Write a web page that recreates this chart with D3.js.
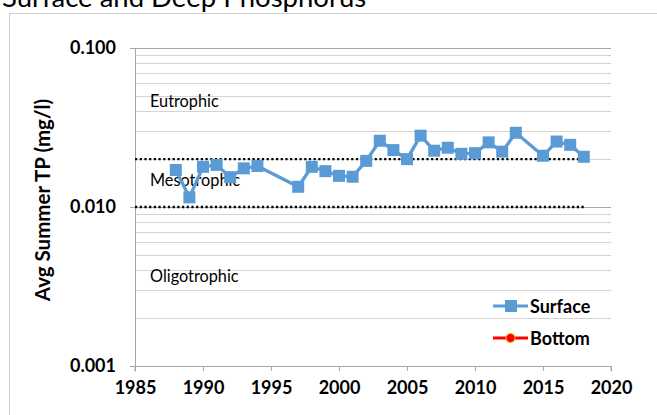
<!DOCTYPE html>
<html>
<head>
<meta charset="utf-8">
<script src="https://cdn.jsdelivr.net/npm/d3@7"></script>
<style>
  body { margin: 0; background: #fff; }
  svg { display: block; font-family: Lato, "Open Sans", sans-serif; }
</style>
</head>
<body>
<svg id="chart" width="657" height="415"></svg>
<script>
// ---- data ----
var years = [1988, 1989, 1990, 1991, 1992, 1993, 1994, 1997, 1998, 1999, 2000, 2001, 2002, 2003,
             2004, 2005, 2006, 2007, 2008, 2009, 2010, 2011, 2012, 2013, 2015, 2016, 2017, 2018];
var surfaceTP = [0.0171, 0.0115, 0.0179, 0.0184, 0.0154, 0.0175, 0.0181, 0.0134, 0.0179, 0.0168,
                 0.0157, 0.0155, 0.0195, 0.0261, 0.0228, 0.0200, 0.0281, 0.0226, 0.0236, 0.0216,
                 0.0218, 0.0255, 0.0223, 0.0293, 0.0210, 0.0258, 0.0246, 0.0207];
var bottomTP = []; // legend only, no points plotted
var xTicks = [1985, 1990, 1995, 2000, 2005, 2010, 2015, 2020];
var yTicks = [0.001, 0.01, 0.1];
var trophicBounds = [0.02, 0.01];
var trophicLabels = [
  {name: "Eutrophic", value: 0.0426},
  {name: "Mesotrophic", value: 0.0135},
  {name: "Oligotrophic", value: 0.00337}
];

var svg = d3.select("#chart");

var x = d3.scaleLinear().domain([1985, 2020]).range([135, 611]);
var y = d3.scaleLog().domain([0.001, 0.1]).range([366, 48]);

// outer chart border
svg.append("rect")
  .attr("x", 9.5).attr("y", 13.5)
  .attr("width", 700).attr("height", 450)
  .attr("fill", "none").attr("stroke", "#d0d0d0").attr("stroke-width", 1);

// title (cut off at top)
svg.append("text")
  .attr("x", 2).attr("y", 7)
  .style("font-size", "27.5px")
  .attr("fill", "#000")
  .text("Surface and Deep Phosphorus");

// minor gridlines
var minor = [];
[0.001, 0.01].forEach(function(d) {
  for (var m = 2; m <= 9; m++) minor.push(d * m);
});
svg.append("g").selectAll("line").data(minor).enter().append("line")
  .attr("x1", 135).attr("x2", 611)
  .attr("y1", function(d) { return Math.round(y(d)) + 0.5; })
  .attr("y2", function(d) { return Math.round(y(d)) + 0.5; })
  .attr("stroke", "#d4d4d4").attr("stroke-width", 1);

// major gridlines
svg.append("g").selectAll("line").data([0.01, 0.1]).enter().append("line")
  .attr("x1", 135).attr("x2", 611)
  .attr("y1", function(d) { return Math.round(y(d)) + 0.5; })
  .attr("y2", function(d) { return Math.round(y(d)) + 0.5; })
  .attr("stroke", "#a6a6a6").attr("stroke-width", 1);

// y axis
var yAxis = svg.append("g").attr("transform", "translate(135,0)")
  .call(d3.axisLeft(y).tickValues(yTicks).tickFormat(d3.format(".3f")).tickSize(5).tickPadding(14));
// x axis
var xAxis = svg.append("g").attr("transform", "translate(0," + y(0.001) + ")")
  .call(d3.axisBottom(x).tickValues(xTicks).tickFormat(d3.format("d")).tickSize(5).tickPadding(10));

[yAxis, xAxis].forEach(function(a) {
  a.select(".domain").attr("stroke", "#a6a6a6");
  a.selectAll(".tick line").attr("stroke", "#a6a6a6");
  a.selectAll(".tick text")
    .style("font-family", "Lato, sans-serif")
    .style("font-size", "18px").style("font-weight", "bold").attr("fill", "#000");
});
xAxis.select(".domain").attr("d", "M135,5.5V0.5H611V5.5");

// y axis title
svg.append("text")
  .attr("transform", "translate(50," + 200 + ") rotate(-90)")
  .attr("text-anchor", "middle")
  .style("font-size", "20.5px").style("font-weight", "bold")
  .text("Avg Summer TP (mg/l)");

// trophic boundaries (dotted)
svg.append("g").selectAll("line").data(trophicBounds).enter().append("line")
  .attr("x1", x(1985)).attr("x2", x(2018))
  .attr("y1", function(d) { return y(d); })
  .attr("y2", function(d) { return y(d); })
  .attr("stroke", "#000").attr("stroke-width", 2.4)
  .attr("stroke-dasharray", "2.2,2.5");

svg.append("g").selectAll("text").data(trophicLabels).enter().append("text")
  .attr("x", 150)
  .attr("y", function(d) { return y(d.value); })
  .style("font-size", "16.3px")
  .text(function(d) { return d.name; });

// surface series
var pts = years.map(function(yr, i) { return {year: yr, v: surfaceTP[i]}; });
var line = d3.line().x(function(d) { return x(d.year); }).y(function(d) { return y(d.v); });

svg.append("path").datum(pts)
  .attr("d", line)
  .attr("fill", "none").attr("stroke", "#5B9BD5").attr("stroke-width", 3.3)
  .attr("stroke-linejoin", "round");

svg.append("g").selectAll("rect").data(pts).enter().append("rect")
  .attr("x", function(d) { return x(d.year) - 6; })
  .attr("y", function(d) { return y(d.v) - 6; })
  .attr("width", 12).attr("height", 12)
  .attr("fill", "#5B9BD5");

// bottom series (no data)
svg.append("g").selectAll("circle").data(bottomTP).enter().append("circle")
  .attr("cx", function(d) { return x(d.year); })
  .attr("cy", function(d) { return y(d.v); })
  .attr("r", 5).attr("fill", "#ff0000");

// legend
var legend = svg.append("g");
var lg1 = legend.append("g").attr("transform", "translate(0,306)");
lg1.append("line").attr("x1", 493).attr("x2", 528).attr("stroke", "#5B9BD5").attr("stroke-width", 3);
lg1.append("rect").attr("x", 505).attr("y", -6).attr("width", 12).attr("height", 12).attr("fill", "#5B9BD5");
lg1.append("text").attr("x", 530).attr("y", 6.5)
  .style("font-size", "18px").style("font-weight", "bold").text("Surface");

var lg2 = legend.append("g").attr("transform", "translate(0,338)");
lg2.append("line").attr("x1", 493).attr("x2", 528).attr("stroke", "#ff0000").attr("stroke-width", 3);
lg2.append("circle").attr("cx", 510.5).attr("cy", 0).attr("r", 4.5)
  .attr("fill", "#ff0000").attr("stroke", "#ffc000").attr("stroke-width", 1);
lg2.append("text").attr("x", 530).attr("y", 6.5)
  .style("font-size", "18px").style("font-weight", "bold").text("Bottom");
</script>
</body>
</html>
